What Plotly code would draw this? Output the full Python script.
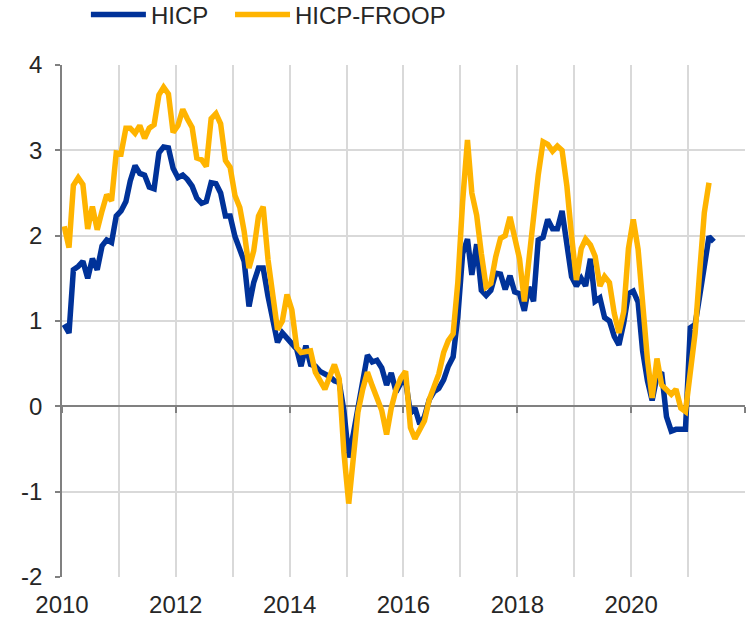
import pandas as pd
import plotly.graph_objects as go

start_month = "2010-01-01"

hicp = [
    0.96, 0.86, 1.60, 1.64, 1.70, 1.50, 1.73, 1.60, 1.88, 1.95, 1.92, 2.23,
    2.29, 2.40, 2.64, 2.82, 2.73, 2.71, 2.57, 2.55, 2.97, 3.04, 3.03, 2.79,
    2.68, 2.71, 2.66, 2.58, 2.44, 2.38, 2.40, 2.62, 2.61, 2.50, 2.23, 2.23,
    1.99, 1.82, 1.70, 1.17, 1.45, 1.62, 1.62, 1.29, 1.02, 0.75, 0.86, 0.80,
    0.75, 0.67, 0.47, 0.71, 0.49, 0.47, 0.41, 0.38, 0.35, 0.30, 0.28, -0.05,
    -0.60, -0.31, 0.00, 0.30, 0.60, 0.52, 0.54, 0.45, 0.25, 0.39, 0.17, 0.27,
    0.30, -0.08, -0.02, -0.21, -0.12, 0.08, 0.17, 0.21, 0.31, 0.47, 0.58, 1.05,
    1.79, 1.96, 1.54, 1.90, 1.36, 1.30, 1.36, 1.56, 1.55, 1.37, 1.53, 1.34,
    1.32, 1.12, 1.40, 1.23, 1.95, 1.98, 2.19, 2.08, 2.08, 2.29, 1.87, 1.52,
    1.41, 1.50, 1.41, 1.73, 1.23, 1.27, 1.04, 1.00, 0.82, 0.72, 0.98, 1.32,
    1.35, 1.22, 0.65, 0.30, 0.07, 0.35, 0.40, -0.12, -0.29, -0.27, -0.27, -0.27,
    0.92, 0.96, 1.28, 1.64, 1.99, 1.93,
]

hicp_froop = [
    2.11, 1.86, 2.59, 2.68, 2.60, 2.08, 2.34, 2.07, 2.29, 2.48, 2.41, 2.97,
    2.96, 3.26, 3.26, 3.20, 3.29, 3.14, 3.26, 3.30, 3.65, 3.74, 3.66, 3.21,
    3.29, 3.48, 3.37, 3.27, 2.91, 2.89, 2.81, 3.37, 3.43, 3.31, 2.88, 2.80,
    2.47, 2.33, 2.05, 1.62, 1.82, 2.23, 2.34, 1.72, 1.30, 0.90, 1.00, 1.31,
    1.13, 0.69, 0.63, 0.64, 0.65, 0.40, 0.30, 0.20, 0.35, 0.49, 0.32, -0.54,
    -1.14, -0.65, -0.07, 0.20, 0.40, 0.24, 0.08, -0.05, -0.33, -0.02, 0.20, 0.33,
    0.41, -0.25, -0.38, -0.27, -0.17, 0.08, 0.21, 0.38, 0.63, 0.77, 0.85, 1.45,
    2.40, 3.12, 2.50, 2.24, 1.79, 1.40, 1.44, 1.75, 1.97, 2.00, 2.22, 1.95,
    1.73, 1.23, 1.71, 2.10, 2.71, 3.10, 3.07, 2.99, 3.05, 3.00, 2.58, 2.00,
    1.48, 1.85, 1.96, 1.89, 1.76, 1.41, 1.52, 1.45, 1.09, 0.86, 1.11, 1.85,
    2.19, 1.84, 1.20, 0.55, 0.10, 0.56, 0.25, 0.20, 0.14, 0.20, -0.02, -0.06,
    0.39, 0.86, 1.55, 2.27, 2.62,
]

series_names = ["HICP", "HICP-FROOP"]
series_colors = ["#003299", "#FFB400"]
series_legends = ["legend", "legend2"]
label_years = [2010, 2012, 2014, 2016, 2018, 2020]
y_ticks = [-2, -1, 0, 1, 2, 3, 4]
y_tick_labels = ["-2", "-1", "0", "1", "2", "3", "4"]


def month_dates(n):
    # monthly observations plotted mid-month (category-centred, as in the original)
    return pd.date_range(start_month, periods=n, freq="MS") + pd.Timedelta(days=14)


fig = go.Figure()
for name, vals, col, lg in zip(series_names, [hicp, hicp_froop], series_colors, series_legends):
    fig.add_trace(go.Scatter(
        x=month_dates(len(vals)), y=vals, name=name, mode="lines", legend=lg,
        line=dict(color=col, width=5.5), hoverinfo="x+y",
    ))

# helper trace for the tick marks on the zero line
fig.add_trace(go.Scatter(x=month_dates(2), y=[None, None], xaxis="x2", yaxis="y",
                         showlegend=False, hoverinfo="skip"))

FONT = "Liberation Sans, Arial, sans-serif"
FS = 24
grid = "#D9D9D9"
axis_col = "#808080"
x_range = ["2010-01-01", "2022-01-01"]

legend_common = dict(orientation="h", xanchor="left",
                     yref="container", y=1 - 15 / 618, yanchor="middle",
                     font=dict(size=FS), bgcolor="rgba(0,0,0,0)",
                     itemwidth=55, tracegroupgap=0)

fig.update_layout(
    width=747, height=618,
    margin=dict(l=62, r=2, t=65, b=41),
    paper_bgcolor="white", plot_bgcolor="white",
    font=dict(family=FONT, size=FS, color="#262626"),
    legend=dict(x=0.035, **legend_common),
    legend2=dict(x=0.246, **legend_common),
    xaxis=dict(
        type="date", range=x_range, automargin=False,
        tickvals=[f"{y}-01-01" for y in label_years],
        ticktext=[str(y) for y in label_years],
        showgrid=True, gridcolor=grid, gridwidth=1.5,
        minor=dict(dtick="M12", tick0="2010-01-01", showgrid=True, gridcolor=grid, gridwidth=1.5),
        showline=False, ticks="", zeroline=False,
        ticklabelstandoff=11,
        tickfont=dict(size=FS),
    ),
    xaxis2=dict(
        type="date", range=x_range, overlaying="x", anchor="free", position=1/3,
        side="bottom", automargin=False,
        tickvals=[f"{y}-01-01" for y in range(2010, 2023, 2)],
        showticklabels=False, ticks="outside", ticklen=6, tickwidth=1.5,
        tickcolor=axis_col, showgrid=False, showline=False, zeroline=False,
    ),
    yaxis=dict(
        range=[-2, 4], tickvals=y_ticks, ticktext=y_tick_labels,
        showgrid=True, gridcolor=grid, gridwidth=1.5,
        automargin=False,
        zeroline=True, zerolinecolor=axis_col, zerolinewidth=1.5,
        showline=True, linecolor=axis_col, linewidth=1.5,
        ticks="outside", ticklen=5, tickwidth=1.5, tickcolor=axis_col,
        tickfont=dict(size=FS), ticklabelstandoff=8,
    ),
)

fig.write_html(
    "out.html",
    config={"displayModeBar": False},
    post_script="document.body.style.margin='0';document.body.style.padding='0';"
                "document.body.style.overflow='hidden';",
)
